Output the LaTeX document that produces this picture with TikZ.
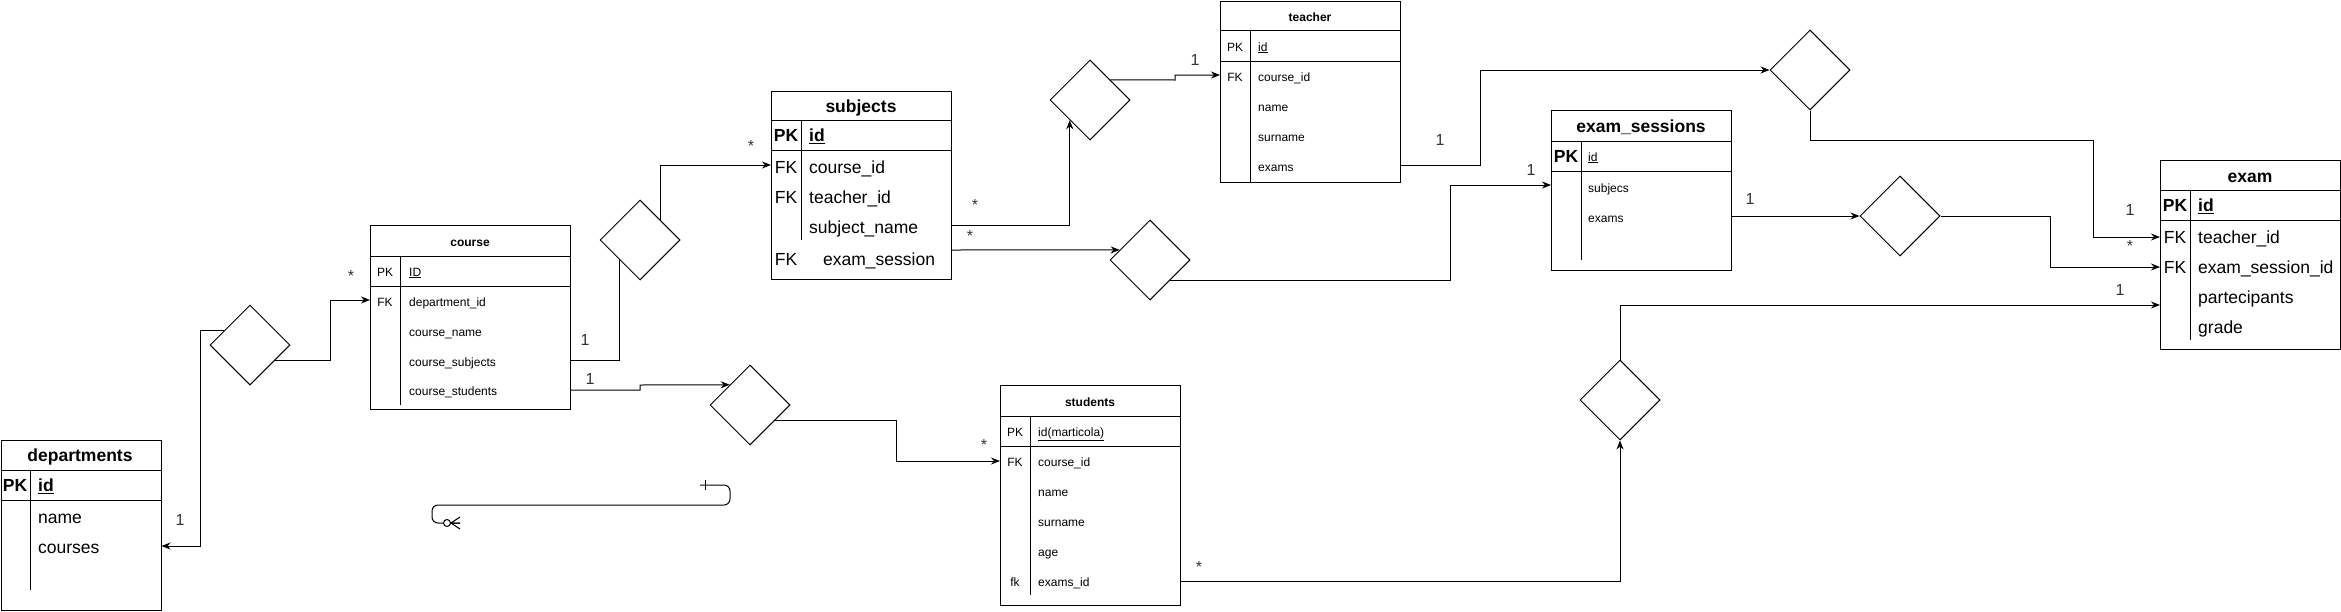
\documentclass[tikz,border=0pt]{standalone}
\usepackage{fontspec}
\setmainfont{Liberation Sans}
\usetikzlibrary{shapes.geometric,arrows.meta,calc}
\begin{document}
\begin{tikzpicture}[x=1pt,y=-1pt,
  tbl/.style={draw, line width=1pt, inner sep=0, anchor=north west},
  ln/.style={line width=1pt},
  rel/.style={draw, diamond, aspect=1, minimum width=80pt, minimum height=80pt, inner sep=0, line width=1pt},
  con/.style={line width=1pt},
  arr/.style={con, -{Stealth[length=9pt,width=7pt]}},
  txt/.style={inner sep=0, text height=0.72em, text depth=0.21em},
  big/.style={txt, font=\fontsize{17.5}{20}\selectfont, yshift=-4pt},
  bigb/.style={txt, font=\fontsize{17.5}{20}\selectfont\bfseries, yshift=-4pt},
  sml/.style={txt, font=\fontsize{12}{14}\selectfont, yshift=-2.5pt},
  smlb/.style={txt, font=\fontsize{12}{14}\selectfont\bfseries, yshift=-2.5pt},
  cell/.style={anchor=west},
  card/.style={txt, font=\fontsize{16}{18}\selectfont, text=black!80, yshift=-3pt},
  star/.style={txt, font=\fontsize{16}{18}\selectfont, text=black!80, yshift=-3pt}
]
\useasboundingbox (0,0) rectangle (2341,611);

% ---------- departments ----------
\node[tbl, minimum width=160pt, minimum height=170pt] (departments) at (0.5,440) {};
\draw[ln] (0.5,470) -- (160.5,470) (0.5,500) -- (160.5,500) (30,470) -- (30,590);
\node[bigb] (depT) at (80,455) {departments};
\node[bigb] (depPK) at (15,485) {PK};
\node[bigb,cell] (depId) at (38,485) {\underline{id}};
\node[big,cell] (depName) at (38,517) {name};
\node[big,cell] (depCourses) at (38,547) {courses};

% ---------- course ----------
\node[tbl, minimum width=200pt, minimum height=184pt] (course) at (370,225) {};
\draw[ln] (370,256) -- (570,256) (370,286) -- (570,286) (400,256) -- (400,405);
\node[smlb] (courseT) at (470,241) {course};
\node[sml] (coursePK) at (385,271) {PK};
\node[sml,cell] (courseId) at (409,271) {\underline{ID}};
\node[sml] (courseFK) at (385,301) {FK};
\node[sml,cell] (courseR1) at (409,301) {department\_id};
\node[sml,cell] (courseR2) at (409,331) {course\_name};
\node[sml,cell] (courseR3) at (409,361) {course\_subjects};
\node[sml,cell] (courseR4) at (409,390) {course\_students};

% ---------- subjects ----------
\node[tbl, minimum width=180pt, minimum height=188pt] (subjects) at (771,91) {};
\draw[ln] (771,120) -- (951,120) (771,150) -- (951,150) (801,120) -- (801,240);
\node[bigb] (subT) at (861,106) {subjects};
\node[bigb] (subPK) at (786,135) {PK};
\node[bigb,cell] (subId) at (809,135) {\underline{id}};
\node[big] (subFK1) at (786,167) {FK};
\node[big,cell] (subR1) at (809,167) {course\_id};
\node[big] (subFK2) at (786,197) {FK};
\node[big,cell] (subR2) at (809,197) {teacher\_id};
\node[big,cell] (subR3) at (809,227) {subject\_name};
\node[big] (subFK3) at (786,259) {FK};
\node[big,cell] (subR4) at (823,259) {exam\_session};

% ---------- teacher ----------
\node[tbl, minimum width=180pt, minimum height=181pt] (teacher) at (1220,0.5) {};
\draw[ln] (1220,30) -- (1400,30) (1220,61) -- (1400,61) (1250,30) -- (1250,181.5);
\node[smlb] (teaT) at (1310,16) {teacher};
\node[sml] (teaPK) at (1235,46) {PK};
\node[sml,cell] (teaId) at (1258,46) {\underline{id}};
\node[sml] (teaFK) at (1235,76) {FK};
\node[sml,cell] (teaR1) at (1258,76) {course\_id};
\node[sml,cell] (teaR2) at (1258,106) {name};
\node[sml,cell] (teaR3) at (1258,136) {surname};
\node[sml,cell] (teaR4) at (1258,166) {exams};

% ---------- exam_sessions ----------
\node[tbl, minimum width=180pt, minimum height=160pt] (examsessions) at (1551,110) {};
\draw[ln] (1551,141) -- (1731,141) (1551,171) -- (1731,171) (1581,141) -- (1581,260);
\node[bigb] (esT) at (1641,126) {exam\_sessions};
\node[bigb] (esPK) at (1566,156) {PK};
\node[sml,cell] (esId) at (1588,156) {\underline{id}};
\node[sml,cell] (esR1) at (1588,187) {subjecs};
\node[sml,cell] (esR2) at (1588,217) {exams};

% ---------- exam ----------
\node[tbl, minimum width=179.5pt, minimum height=189pt] (exam) at (2160,160) {};
\draw[ln] (2160,190) -- (2339.5,190) (2160,220) -- (2339.5,220) (2190,190) -- (2190,340);
\node[bigb] (exT) at (2250,176) {exam};
\node[bigb] (exPK) at (2175,205) {PK};
\node[bigb,cell] (exId) at (2198,205) {\underline{id}};
\node[big] (exFK1) at (2175,237) {FK};
\node[big,cell] (exR1) at (2198,237) {teacher\_id};
\node[big] (exFK2) at (2175,267) {FK};
\node[big,cell] (exR2) at (2198,267) {exam\_session\_id};
\node[big,cell] (exR3) at (2198,297) {partecipants};
\node[big,cell] (exR4) at (2198,327) {grade};

% ---------- students ----------
\node[tbl, minimum width=180pt, minimum height=220pt] (students) at (1000,385) {};
\draw[ln] (1000,416) -- (1180,416) (1000,446) -- (1180,446) (1030,416) -- (1030,595);
\node[smlb] (stT) at (1090,401) {students};
\node[sml] (stPK) at (1015,431) {PK};
\node[sml,cell] (stId) at (1038,431) {\underline{id(marticola)}};
\node[sml] (stFK) at (1015,461) {FK};
\node[sml,cell] (stR1) at (1038,461) {course\_id};
\node[sml,cell] (stR2) at (1038,491) {name};
\node[sml,cell] (stR3) at (1038,521) {surname};
\node[sml,cell] (stR4) at (1038,551) {age};
\node[sml] (stfk) at (1015,581) {fk};
\node[sml,cell] (stR5) at (1038,581) {exams\_id};

% ---------- relationship diamonds ----------
\node[rel] (d1) at (250,345) {};
\node[rel] (d2) at (640,240) {};
\node[rel] (d3) at (750,405) {};
\node[rel] (d4) at (1090,100) {};
\node[rel] (d5) at (1150,260) {};
\node[rel] (d6) at (1810,70) {};
\node[rel] (d7) at (1900,216) {};
\node[rel] (d8) at (1620,400) {};

% ---------- connectors ----------
\draw[arr] ($(d1.west)!0.35!(d1.north)$) -| (200,546) -- (departments.east |- 0,546);
\draw[arr] ($(d1.east)!0.375!(d1.south)$) -| (330,300) -- (course.west |- 0,300);
\draw[con] (course.east |- 0,360) -| ($(d2.west)!0.5!(d2.south)$);
\draw[arr] ($(d2.north)!0.5!(d2.east)$) |- (subjects.west |- 0,165);
\draw[arr] (course.east |- 0,390) -- (640,390) -- (640,385) -- ($(d3.west)!0.5!(d3.north)$);
\draw[con] ($(d3.east)!0.375!(d3.south)$) -| (896,461);
\draw[arr] (896,461) -- (students.west |- 0,461);
\draw[arr] (subjects.east |- 0,225) -| ($(d4.west)!0.5!(d4.south)$);
\draw[arr] ($(d4.north)!0.5!(d4.east)$) -- (1175,80) -- (1175,75) -- (teacher.west |- 0,75);
\draw[arr] (subjects.east |- 0,250) -- ($(d5.west)!0.25!(d5.north)$);
\draw[arr] ($(d5.east)!0.5!(d5.south)$) -| (1450,185) -- (examsessions.west |- 0,185);
\draw[arr] (teacher.east |- 0,165) -| (1480,70) -- (d6.west);
\draw[arr] (d6.south) -- (1810,140) -| (2093,237) -- (exam.west |- 0,237);
\draw[arr] (examsessions.east |- d7.west) -- (d7.west);
\draw[arr] (d7.east) -| (2050,267) -- (exam.west |- 0,267);
\draw[arr] (students.east |- 0,581) -| (d8.south);
\draw[arr] (d8.north) |- (exam.west |- 0,305);

% ---------- cardinality labels ----------
\node[card] (l1) at (180,520) {1};
\node[star] (l2) at (351,276) {*};
\node[card] (l3) at (585,340) {1};
\node[star] (l4) at (751,146) {*};
\node[card] (l5) at (590,379) {1};
\node[star] (l6) at (984,445) {*};
\node[star] (l7) at (975,205) {*};
\node[card] (l8) at (1195,60) {1};
\node[star] (l9) at (970,236) {*};
\node[card] (l10) at (1531,170) {1};
\node[card] (l11) at (1440,140) {1};
\node[card] (l12) at (2130,210) {1};
\node[star] (l13) at (2130,246) {*};
\node[card] (l14) at (1750,199) {1};
\node[star] (l15) at (1199,567) {*};
\node[card] (l16) at (2120,290) {1};

% ---------- dangling ER edge ----------
\coordinate (w1) at (700,485);
\coordinate (w2) at (460,523);
\draw[con, rounded corners=6pt] (w1) -- (730,485) -- (730,505) -- (432,505) -- (432,523) -- (w2);
\draw[con] (705,480) -- (705,490);
\draw[con, fill=white] (447,523) circle (3.5);
\draw[con] (451,523) -- (460,517) (451,523) -- (460,529) (451,523) -- (460,523);
\end{tikzpicture}
\end{document}
